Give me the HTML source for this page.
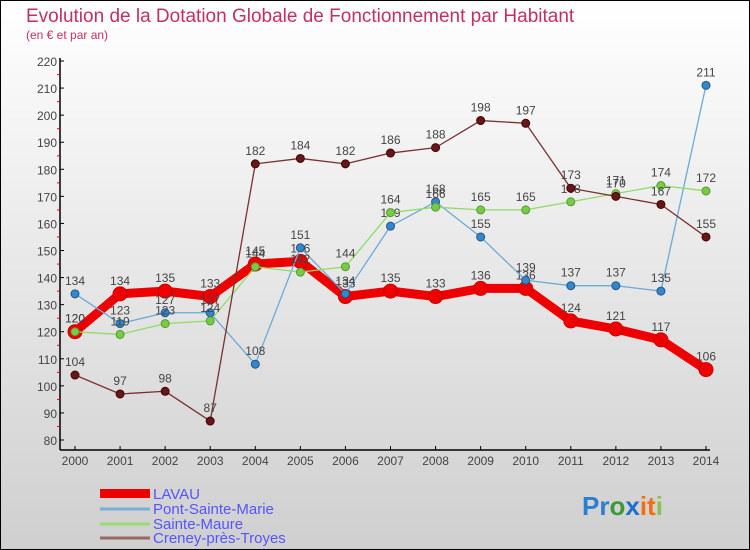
<!DOCTYPE html>
<html><head><meta charset="utf-8"><style>
body{margin:0;}
svg{display:block;font-family:"Liberation Sans",sans-serif;}
</style></head><body>
<svg id="chart" width="750" height="550" xmlns="http://www.w3.org/2000/svg">
<defs><linearGradient id="bg" x1="0" y1="0" x2="0" y2="1"><stop offset="0" stop-color="#ffffff"/><stop offset="1" stop-color="#cfcfcf"/></linearGradient></defs>
<rect x="0.5" y="0.5" width="749" height="549" fill="url(#bg)" stroke="#000"/>
<text x="26" y="22" font-size="19" fill="#c4305e">Evolution de la Dotation Globale de Fonctionnement par Habitant</text>
<text x="26" y="39" font-size="12" fill="#c4305e">(en € et par an)</text>
<g id="axes"></g>
<g id="series"></g>
<g>
<rect x="100" y="489" width="50" height="9" fill="#e00"/>
<text x="153" y="499" font-size="15" fill="#5555ff">LAVAU</text>
<line x1="100" y1="509" x2="150" y2="509" stroke="#7aaed6" stroke-width="3"/>
<text x="153" y="514" font-size="15" fill="#5555ff">Pont-Sainte-Marie</text>
<line x1="100" y1="524" x2="150" y2="524" stroke="#99dd77" stroke-width="3"/>
<text x="153" y="529" font-size="15" fill="#5555ff">Sainte-Maure</text>
<line x1="100" y1="538" x2="150" y2="538" stroke="#9a6666" stroke-width="3"/>
<text x="153" y="543" font-size="15" fill="#5555ff">Creney-près-Troyes</text>
</g>
<text x="582" y="515" font-size="26" font-weight="bold"><tspan fill="#2a7fd0">Pr</tspan><tspan fill="#3a9a3a">o</tspan><tspan fill="#1a6fd0">x</tspan><tspan fill="#f07010">it</tspan><tspan fill="#8bc34a">i</tspan></text>
</svg>
<script>
const years=[2000,2001,2002,2003,2004,2005,2006,2007,2008,2009,2010,2011,2012,2013,2014];
const yTicks=[80,90,100,110,120,130,140,150,160,170,180,190,200,210,220];
const lavau=[120,134,135,133,145,146,133,135,133,136,136,124,121,117,106];
const pont=[134,123,127,127,108,151,134,159,168,155,139,137,137,135,211];
const sainteMaure=[120,119,123,124,144,142,144,164,166,165,165,168,171,174,172];
const creney=[104,97,98,87,182,184,182,186,188,198,197,173,170,167,155];
const NS="http://www.w3.org/2000/svg";
const xS=i=>75+i*(706-75)/14;
const yS=v=>440-(v-80)*(440-61)/140;
function mk(tag,attrs,parent){const e=document.createElementNS(NS,tag);for(const k in attrs)e.setAttribute(k,attrs[k]);parent.appendChild(e);return e;}
const ax=document.getElementById('axes');
let l=mk('line',{x1:60,y1:58,x2:60,y2:450,stroke:'#000','stroke-width':1.5},ax);


l=mk('line',{x1:60,y1:450,x2:710,y2:450,stroke:'#000','stroke-width':1.5},ax);


yTicks.forEach((t,i)=>{const y=yS(t);
 mk('line',{x1:60,y1:y,x2:64,y2:y,stroke:'#000'},ax);
 if(i<yTicks.length-1) mk('line',{x1:57,y1:y-13.5,x2:60,y2:y-13.5,stroke:'#e00'},ax);
 const tx=mk('text',{x:57,y:y+5,'font-size':12,'text-anchor':'end',fill:'#444'},ax);tx.textContent=t;
 
 });
years.forEach((yr,i)=>{const x=xS(i);
 mk('line',{x1:x,y1:446,x2:x,y2:450,stroke:'#000'},ax);
 const tx=mk('text',{x:x,y:465,'font-size':12,'text-anchor':'middle',fill:'#444'},ax);tx.textContent=yr;
 
 });
const sg=document.getElementById('series');
function draw(data,color,w,r,mfill,mstroke,name){
 const g=mk('g',{},sg);
 
 
 const p=mk('polyline',{points:data.map((v,i)=>xS(i)+','+yS(v)).join(' '),fill:'none',stroke:color,'stroke-width':w,'stroke-linejoin':'round'},g);
 
 
 data.forEach((v,i)=>{
  const c=mk('circle',{cx:xS(i),cy:yS(v),r:r,fill:mfill,stroke:mstroke,'stroke-width':1},g);
  
  
  const t=mk('text',{x:xS(i),y:yS(v)-9,'font-size':12,'text-anchor':'middle',fill:'#444'},g);t.textContent=v;
  
  
 });
}
draw(lavau,'#ee0000',9,7,'#ee0000','#cc0000','lavau');
draw(pont,'#6aaad8',1.3,4,'#3388cc','#225588','pont-sainte-marie');
draw(sainteMaure,'#8fdc66',1.3,4,'#77cc44','#559933','sainte-maure');
draw(creney,'#7a3030',1.3,4,'#661818','#440000','creney');
</script>
</body></html>
